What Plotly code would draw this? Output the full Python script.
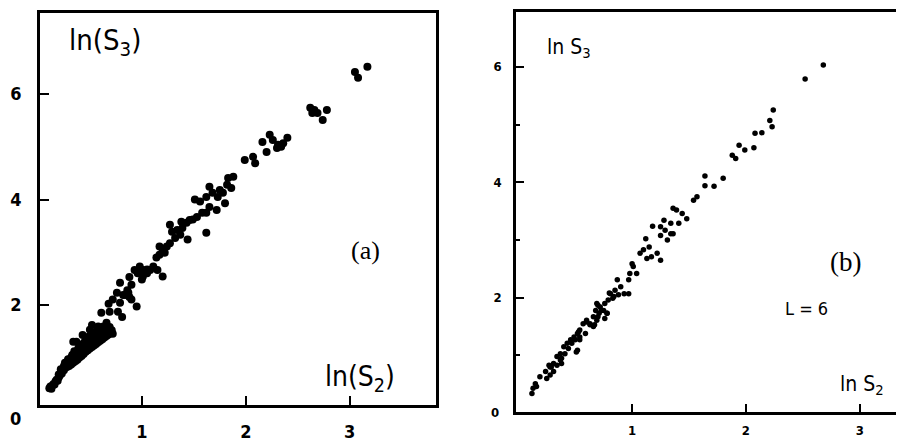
import plotly.graph_objects as go

# ---- panel (a): ln(S2) vs ln(S3) ----
a_x = [0.11, 0.12, 0.13, 0.14, 0.15, 0.16, 0.17, 0.18, 0.19, 0.20, 0.20, 0.21, 0.22, 0.23, 0.24, 0.25, 0.25,
       0.26, 0.27, 0.28, 0.28, 0.29, 0.30, 0.30, 0.31, 0.32, 0.32, 0.33, 0.34, 0.34, 0.35, 0.36, 0.36, 0.37,
       0.38, 0.38, 0.39, 0.40, 0.40, 0.41, 0.42, 0.42, 0.43, 0.44, 0.44, 0.45, 0.46, 0.46, 0.47, 0.48, 0.48,
       0.49, 0.50, 0.50, 0.51, 0.52, 0.52, 0.53, 0.54, 0.55, 0.55, 0.56, 0.57, 0.58, 0.58, 0.59, 0.60, 0.61,
       0.62, 0.62, 0.63, 0.64, 0.65, 0.66, 0.67, 0.68, 0.70, 0.72,
       0.22, 0.26, 0.29, 0.33, 0.35, 0.39, 0.41, 0.45, 0.47, 0.49, 0.53, 0.56, 0.60, 0.64, 0.69, 0.71,
       0.34, 0.37, 0.43, 0.50, 0.52, 0.58, 0.61, 0.66, 0.69, 0.68, 0.57, 0.63, 0.77, 0.81,
       0.72, 0.79, 0.88, 0.90, 0.76, 0.82, 0.86, 0.79, 0.84, 0.87, 0.95,
       0.88, 0.93, 0.98, 1.01, 1.05, 0.96, 0.90, 1.00, 1.08, 1.20, 1.15, 1.14, 1.17, 1.20, 1.24, 1.27, 1.22,
       1.17, 1.11, 1.05, 1.01, 1.29, 1.27, 1.34, 1.37, 1.32, 1.39, 1.43, 1.38, 1.46, 1.44, 1.62, 1.53, 1.58,
       1.62, 1.65, 1.72, 1.49, 1.51, 1.56, 1.65, 1.68, 1.62, 1.73, 1.78, 1.80, 1.75, 1.83, 1.88, 1.86, 1.82,
       1.99, 2.09, 2.07, 2.23, 2.26, 2.16, 2.31, 2.36, 2.40, 2.30, 2.20, 2.34,
       2.62, 2.66, 2.69, 2.78, 2.74, 2.64, 3.05, 3.08, 3.17]
a_y = [0.42, 0.45, 0.41, 0.47, 0.50, 0.49, 0.55, 0.58, 0.56, 0.62, 0.68, 0.66, 0.72, 0.70, 0.78, 0.76, 0.84,
       0.80, 0.87, 0.82, 0.92, 0.88, 0.84, 0.96, 0.91, 0.87, 1.00, 0.94, 0.90, 1.05, 0.98, 0.93, 1.09, 1.02,
       0.96, 1.13, 1.06, 1.00, 1.17, 1.10, 1.03, 1.21, 1.14, 1.07, 1.25, 1.18, 1.11, 1.29, 1.22, 1.14, 1.33,
       1.26, 1.17, 1.36, 1.29, 1.20, 1.40, 1.32, 1.23, 1.36, 1.44, 1.26, 1.39, 1.29, 1.47, 1.42, 1.32, 1.45,
       1.35, 1.52, 1.47, 1.38, 1.50, 1.41, 1.52, 1.44, 1.47, 1.45,
       0.78, 0.90, 0.97, 1.05, 1.12, 1.18, 1.25, 1.30, 1.35, 1.40, 1.45, 1.48, 1.52, 1.56, 1.58, 1.52,
       1.30, 1.30, 1.43, 1.53, 1.62, 1.59, 1.85, 1.66, 1.87, 2.02, 1.53, 1.59, 1.87, 1.77,
       2.10, 2.04, 2.15, 2.10, 2.23, 2.19, 2.28, 2.42, 2.19, 2.23, 1.97,
       2.53, 2.66, 2.73, 2.66, 2.60, 2.60, 2.38, 2.48, 2.66, 2.54, 2.66, 2.90, 2.95, 3.05, 3.11, 3.17, 2.99,
       3.11, 2.73, 2.67, 2.54, 3.39, 3.52, 3.42, 3.33, 3.27, 3.46, 3.56, 3.58, 3.61, 3.24, 3.37, 3.67, 3.75,
       3.75, 3.86, 3.80, 3.62, 4.00, 3.96, 4.24, 4.13, 4.05, 4.05, 4.13, 3.93, 4.18, 4.41, 4.43, 4.22, 4.28,
       4.75, 4.69, 4.81, 5.23, 5.13, 5.09, 5.04, 5.07, 5.17, 4.98, 4.90, 5.00,
       5.74, 5.70, 5.64, 5.70, 5.51, 5.64, 6.42, 6.31, 6.52]

# ---- panel (b): ln S2 vs ln S3, L = 6 ----
b_x = [0.12, 0.13, 0.15, 0.16, 0.19, 0.25, 0.28, 0.31, 0.29, 0.34, 0.38, 0.38, 0.41, 0.44, 0.47, 0.51, 0.50,
       0.54, 0.59, 0.53, 0.63, 0.67, 0.60, 0.70, 0.73, 0.78, 0.70, 0.76, 0.79, 0.83, 0.88, 0.97, 0.81,
       0.37, 0.34, 0.31, 0.28, 0.27, 0.24, 0.37, 0.40, 0.43, 0.46, 0.49, 0.52, 0.54, 0.52, 0.54, 0.66,
       0.57, 0.63, 0.60, 0.69, 0.66, 0.71, 0.76, 0.78, 0.68, 0.75, 0.72, 0.69, 0.84, 0.85, 0.90, 0.87,
       0.93, 0.80, 0.97, 1.00, 0.98, 1.04, 1.01, 1.07, 1.10, 1.13, 1.17, 1.22, 1.25, 1.15, 1.12, 1.18,
       1.25, 1.29, 1.34, 1.28, 1.25, 1.36, 1.31, 1.34, 1.41, 1.36, 1.39, 1.44, 1.48, 1.54, 1.57, 1.64,
       1.64, 1.72, 1.80, 1.88, 1.91, 1.94, 1.99, 2.07, 2.08, 2.14, 2.21, 2.23, 2.24, 2.52, 2.68]
b_y = [0.34, 0.43, 0.51, 0.46, 0.63, 0.60, 0.66, 0.72, 0.80, 0.83, 0.86, 0.95, 1.03, 1.12, 1.21, 1.06, 1.27,
       1.32, 1.38, 1.41, 1.53, 1.53, 1.58, 1.67, 1.78, 1.73, 1.87, 1.90, 1.96, 1.99, 2.05, 2.07, 2.07,
       0.92, 0.98, 0.86, 0.80, 0.83, 0.72, 1.03, 1.15, 1.21, 1.27, 1.32, 1.38, 1.44, 1.09, 1.27, 1.50,
       1.55, 1.55, 1.61, 1.61, 1.67, 1.73, 1.64, 1.73, 1.78, 1.78, 1.84, 1.90, 2.02, 2.13, 2.19, 2.31,
       2.07, 2.08, 2.31, 2.59, 2.42, 2.42, 2.54, 2.77, 2.83, 2.68, 2.71, 2.77, 2.65, 2.88, 3.02, 3.24,
       3.08, 3.17, 3.11, 3.34, 3.23, 3.11, 3.00, 3.29, 3.29, 3.55, 3.52, 3.46, 3.37, 3.69, 3.75, 3.94,
       4.11, 3.93, 4.07, 4.47, 4.41, 4.64, 4.56, 4.60, 4.85, 4.86, 5.07, 4.96, 5.25, 5.79, 6.03]

a_xticks = [1, 2, 3]
a_yticks = [2, 4, 6]
b_xticks = [1, 2, 3]
b_yticks = [2, 4, 6]

W, H = 904, 442
OFF = 8  # page body margin offset
def fx(p): return (p - OFF) / W
def fy(p): return 1 - (p - OFF) / H

fig = go.Figure()
fig.add_trace(go.Scatter(x=a_x, y=a_y, mode="markers", xaxis="x", yaxis="y",
                         marker=dict(color="black", size=8), showlegend=False))
fig.add_trace(go.Scatter(x=b_x, y=b_y, mode="markers", xaxis="x2", yaxis="y2",
                         marker=dict(color="black", size=5.5), showlegend=False))

axcommon = dict(showline=True, linecolor="black", linewidth=2.5, mirror=True, showgrid=False,
                zeroline=False, ticks="inside", tickcolor="black")
din = "DejaVu Sans Condensed, DejaVu Sans, sans-serif"
serif = "Liberation Serif, DejaVu Serif, serif"
big = dict(family=din, size=18, color="black", weight="bold")
small = dict(family=din, size=13, color="black", weight="bold")

fig.update_layout(
    width=W, height=H, margin=dict(l=0, r=0, t=0, b=0),
    paper_bgcolor="white", plot_bgcolor="white",
    xaxis=dict(domain=[fx(40), fx(436)], range=[0.02, 3.83], tickvals=a_xticks,
               ticklen=9, tickwidth=2, tickfont=big, ticklabelstandoff=9, anchor="y", **axcommon),
    yaxis=dict(domain=[fy(405), fy(13)], range=[0.10, 7.54], tickvals=a_yticks,
               ticklen=9, tickwidth=2, tickfont=big, ticklabelstandoff=12, anchor="x", **axcommon),
    xaxis2=dict(domain=[fx(516), fx(903)], range=[-0.02, 3.38], tickvals=b_xticks,
                ticklen=8, tickwidth=2, tickfont=small, ticklabelstandoff=5, anchor="y2", **axcommon),
    yaxis2=dict(domain=[fy(412), fy(12)], range=[0.02, 6.95], tickvals=b_yticks,
                ticklen=8, tickwidth=2, tickfont=small, ticklabelstandoff=9, anchor="x2",
                minor=dict(ticks="inside", dtick=1, tick0=0, ticklen=4, tickwidth=1.5, tickcolor="black"),
                **axcommon),
)

def ann(text, x, y, size, family=din, weight="normal"):
    fig.add_annotation(text=text, x=fx(x), y=fy(y), xref="paper", yref="paper",
                       showarrow=False, xanchor="center", yanchor="middle",
                       font=dict(family=family, size=size, color="black", weight=weight))

ann("ln(S<sub>3</sub>)", 105, 42, 29)
ann("ln(S<sub>2</sub>)", 360, 378, 28)
ann("(a)", 365, 250, 26, serif)
ann("0", 15, 418, 18, weight="bold")
ann("ln S<sub>3</sub>", 569, 48, 21)
ann("ln S<sub>2</sub>", 862, 385, 21)
ann("(b)", 845, 262, 27, serif)
ann("L = 6", 806, 308, 18)
ann("0", 495, 412, 13, weight="bold")

fig.write_html("out.html")
